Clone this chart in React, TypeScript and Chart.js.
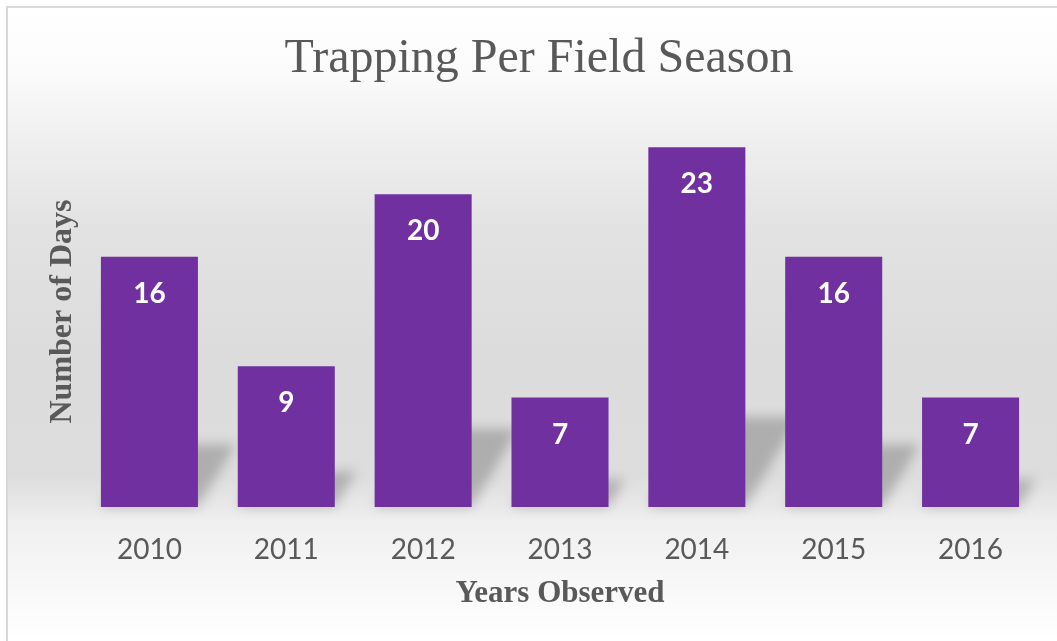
import { useEffect, useRef } from "react";
import { Chart, registerables } from "chart.js";

Chart.register(...registerables);

const years = ["2010", "2011", "2012", "2013", "2014", "2015", "2016"];
const days = [16, 9, 20, 7, 23, 16, 7];
const yMin = 0;
const yMax = 25;
const titleText = "Trapping Per Field Season";
const xTitleText = "Years Observed";
const yTitleText = "Number of Days";

const barColor = "#7030A0";
const textGray = "#595959";
const serif = "'Liberation Serif', 'Times New Roman', serif";
const sans = "Lato, 'Open Sans', sans-serif";

const backgroundPlugin = {
  id: "bgFrame",
  beforeDraw(chart: any) {
    const { ctx, width, height } = chart;
    ctx.save();
    ctx.fillStyle = "#ffffff";
    ctx.fillRect(0, 0, width, height);
    const g = ctx.createLinearGradient(0, 7, 0, height);
    g.addColorStop(0, "#ffffff");
    g.addColorStop(0.1, "#fbfbfb");
    g.addColorStop(0.2, "#f0f0f0");
    g.addColorStop(0.35, "#e2e2e2");
    g.addColorStop(0.55, "#dcdcdc");
    g.addColorStop(0.74, "#dddddd");
    g.addColorStop(0.79, "#e9e9e9");
    g.addColorStop(0.81, "#efefef");
    g.addColorStop(0.9, "#f7f7f7");
    g.addColorStop(1, "#ffffff");
    ctx.fillStyle = g;
    ctx.fillRect(7, 7, width - 7, height - 7);
    ctx.strokeStyle = "#d9d9d9";
    ctx.lineWidth = 2;
    ctx.beginPath();
    ctx.moveTo(7, height);
    ctx.lineTo(7, 7);
    ctx.lineTo(width, 7);
    ctx.stroke();
    ctx.restore();
  },
};

const shadowPlugin = {
  id: "barShadow",
  beforeDatasetsDraw(chart: any) {
    const { ctx } = chart;
    const meta = chart.getDatasetMeta(0);
    ctx.save();
    ctx.filter = "blur(6px)";
    ctx.fillStyle = "rgba(0,0,0,0.21)";
    meta.data.forEach((bar: any) => {
      const { x, y, base, width } = bar.getProps(["x", "y", "base", "width"], true);
      const h = base - y;
      const k = 0.25 * h;
      const s = 0.6 * k;
      const L = x - width / 2;
      const R = x + width / 2;
      ctx.beginPath();
      ctx.moveTo(L, base);
      ctx.lineTo(R, base);
      ctx.lineTo(R + s, base - k);
      ctx.lineTo(L + s, base - k);
      ctx.closePath();
      ctx.fill();
    });
    ctx.restore();
  },
};

const labelPlugin = {
  id: "barLabels",
  afterDatasetsDraw(chart: any) {
    const { ctx } = chart;
    const meta = chart.getDatasetMeta(0);
    const data = chart.data.datasets[0].data;
    ctx.save();
    ctx.fillStyle = "#ffffff";
    ctx.font = `bold 28px ${sans}`;
    ctx.textAlign = "center";
    ctx.textBaseline = "middle";
    meta.data.forEach((bar: any, i: number) => {
      const { x, y } = bar.getProps(["x", "y"], true);
      ctx.fillText(String(data[i]), x, y + 37);
    });
    ctx.restore();
  },
};

export default function App() {
  const canvasRef = useRef<HTMLCanvasElement | null>(null);

  useEffect(() => {
    if (!canvasRef.current) return;
    const chart = new Chart(canvasRef.current, {
      type: "bar",
      data: {
        labels: years,
        datasets: [
          {
            data: days,
            backgroundColor: barColor,
            barPercentage: 0.709,
            categoryPercentage: 1,
          },
        ],
      },
      options: {
        animation: false,
        responsive: true,
        maintainAspectRatio: false,
        layout: { padding: { left: 39, right: 18, top: 0, bottom: 0 } },
        plugins: {
          legend: { display: false },
          tooltip: { enabled: false },
          title: {
            display: true,
            text: titleText,
            color: textGray,
            font: { family: serif, size: 48, weight: "normal", lineHeight: 1.2 },
            padding: { top: 31, bottom: 27.4 },
          },
        },
        scales: {
          x: {
            grid: { display: false, drawTicks: false },
            border: { display: false },
            ticks: { color: textGray, font: { family: sans, size: 28 }, padding: 26 },
            title: {
              display: true,
              text: xTitleText,
              color: textGray,
              font: { family: serif, size: 31, weight: "bold", lineHeight: 1 },
              padding: { top: -14.6, bottom: 32 },
            },
          },
          y: {
            min: yMin,
            max: yMax,
            grid: { display: false, drawTicks: false },
            border: { display: false },
            ticks: { display: false },
            title: {
              display: true,
              text: yTitleText,
              color: textGray,
              font: { family: serif, size: 32, weight: "bold", lineHeight: 1 },
              padding: { top: 8, bottom: 2 },
            },
          },
        },
      },
      plugins: [backgroundPlugin, shadowPlugin, labelPlugin],
    });
    return () => chart.destroy();
  }, []);

  return (
    <div style={{ position: "absolute", left: 0, top: 0, width: 1057, height: 641 }}>
      <canvas ref={canvasRef} />
    </div>
  );
}
